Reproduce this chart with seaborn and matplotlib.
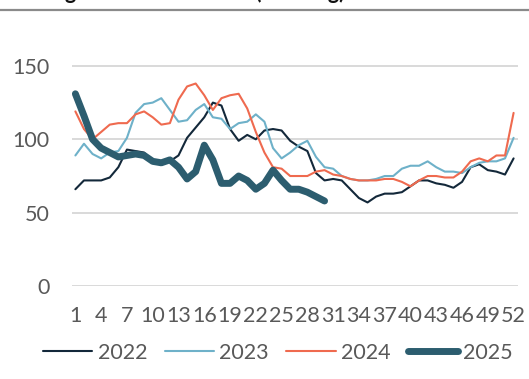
import matplotlib
matplotlib.use("Agg")
import matplotlib.pyplot as plt
from matplotlib.lines import Line2D
import seaborn as sns
import numpy as np

weeks = list(range(1, 53))

price_2022 = [66, 72, 72, 72, 74, 81, 93, 92, 91, 85, 83, 85, 89, 101, 108, 115, 125, 123, 107, 99,
              103, 100, 106, 107, 106, 99, 95, 92, 77, 72, 73, 72, 66, 60, 57, 61, 63, 63, 64, 68,
              72, 72, 70, 69, 67, 71, 81, 83, 79, 78, 76, 87]
price_2023 = [89, 97, 90, 87, 91, 92, 101, 118, 124, 125, 128, 120, 112, 113, 120, 124, 115, 114, 107, 111,
              112, 117, 112, 94, 87, 91, 96, 99, 88, 81, 80, 75, 73, 72, 72, 73, 75, 75, 80, 82,
              82, 85, 81, 78, 78, 77, 81, 84, 85, 85, 87, 101]
price_2024 = [119, 107, 100, 105, 110, 111, 111, 117, 119, 115, 110, 111, 127, 136, 138, 130, 120, 128, 130, 131,
              121, 105, 91, 81, 80, 75, 75, 75, 78, 79, 76, 75, 73, 72, 72, 72, 73, 73, 71, 68,
              72, 75, 75, 74, 74, 78, 85, 87, 85, 89, 89, 118]
price_2025 = [131, 116, 100, 94, 91, 88, 89, 90, 89, 85, 84, 86, 81, 73, 78, 96, 86, 70, 70, 75,
              72, 66, 70, 79, 72, 66, 66, 64, 61, 58]

series = [
    ("2022", price_2022, "#13283a", 1.5),
    ("2023", price_2023, "#6eb1c9", 1.5),
    ("2024", price_2024, "#ef6a4f", 1.5),
    ("2025", price_2025, "#2c5d6f", 5.0),
]

x_ticks = list(range(1, 53, 3))
y_ticks = [0, 50, 100, 150]

sns.set_theme(style="white")
plt.rcParams["font.family"] = ["Lato", "DejaVu Sans"]

fig = plt.figure(figsize=(5.29, 3.79), dpi=100)
ax = fig.add_axes([0.136, 0.245, 0.843, 0.678])

for name, vals, color, lw in series:
    sns.lineplot(x=weeks[:len(vals)], y=vals, ax=ax, color=color, linewidth=lw,
                 label=name, solid_capstyle="round", solid_joinstyle="round")

ax.set_xlim(0.6, 52.5)
ax.set_ylim(0, 175)
ax.set_xticks(x_ticks)
ax.set_xticklabels([str(t) for t in x_ticks])
ax.set_yticks(y_ticks)
ax.grid(axis="y", color="#d9d9d9", linewidth=1.4)
ax.grid(axis="x", visible=False)
for s in ax.spines.values():
    s.set_visible(False)
ax.tick_params(axis="both", length=0, labelsize=15.5, labelcolor="#595959")
ax.tick_params(axis="y", pad=16)
ax.tick_params(axis="x", pad=14)
ax.set_xlabel("")
ax.set_ylabel("")

leg = ax.legend(loc="center", bbox_to_anchor=(0.525, 1 - 353 / 379), bbox_transform=fig.transFigure,
                ncol=4, frameon=False, fontsize=15.5, handlelength=2.3, handletextpad=0.25,
                columnspacing=0.8, borderaxespad=0)
for t in leg.get_texts():
    t.set_color("#595959")

# chart heading sits above the frame; a rule separates it from the plot
fig.text(36 / 529, 1 + 0.8 / 379, "Hog wholesale market (CNY/kg)", ha="left", va="baseline",
         fontsize=15.5, fontweight="bold", color="#111111")
fig.add_artist(Line2D([0, 1], [1 - 9.5 / 379, 1 - 9.5 / 379], transform=fig.transFigure,
                      color="#8a8a8a", linewidth=1.6))

fig.savefig("out.png", dpi=100)
